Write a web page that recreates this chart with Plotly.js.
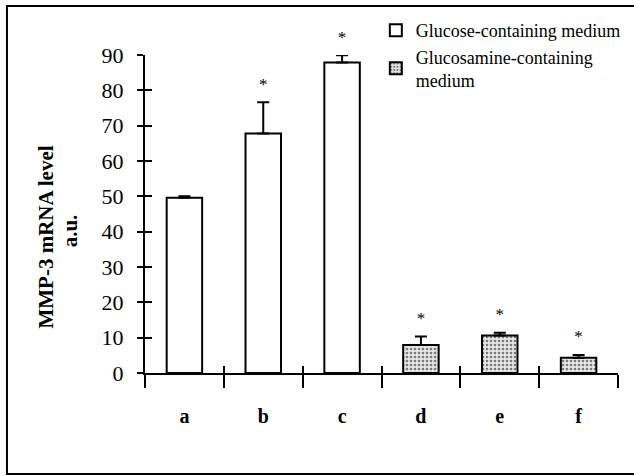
<!DOCTYPE html>
<html>
<head>
<meta charset="utf-8">
<script src="https://cdn.plot.ly/plotly-3.0.1.min.js"></script>
<style>html,body{margin:0;padding:0;background:#fff;}</style>
</head>
<body>
<div id="chart" style="width:634px;height:476px;"></div>
<script>
// Data
var categories = ['a', 'b', 'c', 'd', 'e', 'f'];
var glucoseCats = ['a', 'b', 'c'];
var glucoseValues = [49.6, 67.8, 87.9];
var glucoseErrors = [0.4, 8.8, 2.0];
var glucosamineCats = ['d', 'e', 'f'];
var glucosamineValues = [7.9, 10.6, 4.3];
var glucosamineErrors = [2.4, 0.8, 0.8];
var significant = ['', '*', '*', '*', '*', '*'];
var seriesNames = ['Glucose-containing medium', 'Glucosamine-containing<br>medium'];
var yTicks = [0, 10, 20, 30, 40, 50, 60, 70, 80, 90];
var yTitleLines = ['MMP-3 mRNA level', 'a.u.'];

var serif = '"Liberation Serif", "Times New Roman", serif';

var allValues = glucoseValues.concat(glucosamineValues);
var allErrors = glucoseErrors.concat(glucosamineErrors);
var starY = allValues.map(function (v, i) { return v + allErrors[i]; });

var traces = [
  {
    type: 'bar', name: seriesNames[0], x: glucoseCats, y: glucoseValues,
    width: 0.45,
    marker: { color: '#ffffff', line: { color: '#000', width: 2 } },
    error_y: { type: 'data', array: glucoseErrors, arrayminus: glucoseErrors.map(function(){return 0;}), symmetric: false, color: '#000', thickness: 2, width: 6 }
  },
  {
    type: 'bar', name: seriesNames[1], x: glucosamineCats, y: glucosamineValues,
    width: 0.45,
    marker: { color: '#e6e6e6', line: { color: '#000', width: 2 },
      pattern: { shape: '.', fgcolor: '#7a7a7a', bgcolor: '#e6e6e6', size: 4, solidity: 0.35 } },
    error_y: { type: 'data', array: glucosamineErrors, arrayminus: glucosamineErrors.map(function(){return 0;}), symmetric: false, color: '#000', thickness: 2, width: 6 }
  },
  {
    type: 'scatter', mode: 'markers+text', x: categories, y: starY, text: significant,
    marker: { size: 12, opacity: 0 },
    textposition: 'top center', textfont: { family: serif, size: 17, color: '#000' },
    showlegend: false, hoverinfo: 'skip', cliponaxis: false
  },
  {
    type: 'scatter', mode: 'markers', x: categories, y: allValues, xaxis: 'x2', yaxis: 'y2',
    marker: { opacity: 0 }, showlegend: false, hoverinfo: 'skip'
  }
];

var layout = {
  width: 634, height: 476,
  margin: { l: 145, r: 16, t: 55, b: 103, autoexpand: false },
  paper_bgcolor: '#fff', plot_bgcolor: 'rgba(0,0,0,0)',
  barmode: 'overlay',
  showlegend: true,
  font: { family: serif, color: '#000' },
  xaxis: {
    type: 'category', categoryorder: 'array', categoryarray: categories,
    range: [-0.5, 5.5], tickson: 'boundaries',
    ticks: 'outside', ticklen: 13, tickwidth: 2, tickcolor: '#000',
    showline: true, linewidth: 2, linecolor: '#000', showgrid: false, zeroline: false,
    tickfont: { family: serif, size: 20, color: '#000', weight: 'bold' },
    ticklabelstandoff: 24
  },
  xaxis2: {
    type: 'category', categoryorder: 'array', categoryarray: categories,
    range: [-0.5, 5.5], tickson: 'boundaries', overlaying: 'x', anchor: 'y',
    ticks: 'inside', ticklen: 7, tickwidth: 2, tickcolor: '#000',
    showticklabels: false, showline: false, showgrid: false, zeroline: false
  },
  yaxis: {
    range: [0, 90], tickvals: yTicks, ticktext: yTicks.map(String),
    ticks: 'outside', ticklen: 6, tickwidth: 2, tickcolor: '#000',
    showline: true, linewidth: 2, linecolor: '#000', showgrid: false, zeroline: false,
    tickfont: { family: serif, size: 22, color: '#000' },
    ticklabelstandoff: 9
  },
  yaxis2: {
    range: [0, 90], tickvals: yTicks, overlaying: 'y', side: 'left', anchor: 'x',
    ticks: 'inside', ticklen: 7, tickwidth: 2, tickcolor: '#000',
    showticklabels: false, showline: false, showgrid: false, zeroline: false
  },
  legend: {
    x: 0.488, xanchor: 'left', y: 1.135, yanchor: 'top',
    bgcolor: 'rgba(0,0,0,0)', borderwidth: 0,
    font: { family: serif, size: 18, color: '#000' },
    tracegroupgap: 0, itemclick: false
  },
  annotations: [
    {
      xref: 'paper', yref: 'paper', x: -0.21, y: 0.428, text: yTitleLines[0],
      textangle: -90, showarrow: false, xanchor: 'center', yanchor: 'middle',
      font: { family: serif, size: 21, color: '#000', weight: 'bold' }
    },
    {
      xref: 'paper', yref: 'paper', x: -0.159, y: 0.448, text: yTitleLines[1],
      textangle: -90, showarrow: false, xanchor: 'center', yanchor: 'middle',
      font: { family: serif, size: 21, color: '#000', weight: 'bold' }
    }
  ],
  shapes: [
    {
      type: 'rect', xref: 'paper', yref: 'paper',
      x0: -0.2918, x1: 1.06, y0: -0.3176, y1: 1.154,
      line: { color: '#000', width: 2 }, fillcolor: 'rgba(0,0,0,0)', layer: 'below'
    }
  ]
};

Plotly.newPlot('chart', traces, layout, { displayModeBar: false, staticPlot: true });
</script>
</body>
</html>
